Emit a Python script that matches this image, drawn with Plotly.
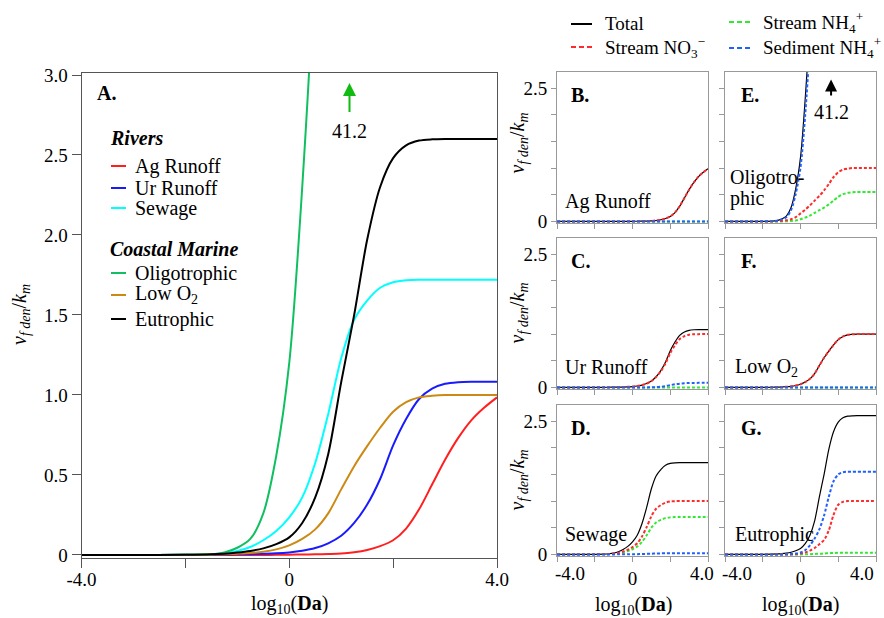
import plotly.graph_objects as go

# ---------------- data ----------------
LOG_DA = [-4, -3, -2, -1.5, -1.25, -1, -0.75, -0.5, -0.25, 0, 0.25, 0.5, 0.75, 1,
          1.25, 1.5, 1.75, 2, 2.25, 2.5, 2.75, 3, 3.25, 3.5, 3.75, 4]

AG_RUNOFF = [0, 0, 0, 0, 0, 0, 0, 0, 0.001, 0.002, 0.003, 0.004, 0.006, 0.009, 0.017, 0.031,
             0.055, 0.092, 0.165, 0.285, 0.44, 0.595, 0.73, 0.84, 0.92, 0.985]
UR_RUNOFF = [0, 0, 0.001, 0.002, 0.003, 0.004, 0.005, 0.007, 0.01, 0.016, 0.026, 0.043, 0.073,
             0.12, 0.20, 0.315, 0.475, 0.685, 0.85, 0.975, 1.04, 1.07, 1.08, 1.083, 1.083, 1.083]
SEWAGE = [0, 0, 0.001, 0.004, 0.012, 0.025, 0.05, 0.092, 0.15, 0.235, 0.36, 0.575, 0.88, 1.23,
          1.47, 1.59, 1.67, 1.705, 1.717, 1.72, 1.72, 1.72, 1.72, 1.72, 1.72, 1.72]
OLIGOTROPHIC = [0, 0, 0.001, 0.005, 0.016, 0.045, 0.10, 0.26, 0.62, 1.2, 2.3, 3.8, 6.5, 11, 17,
                24, 30, 35, 38.5, 40.2, 40.9, 41.1, 41.2, 41.2, 41.2, 41.2]
LOW_O2 = [0, 0, 0.001, 0.003, 0.005, 0.008, 0.012, 0.02, 0.035, 0.06, 0.10, 0.16, 0.26, 0.41,
          0.555, 0.68, 0.795, 0.895, 0.955, 0.985, 0.995, 1.0, 1.0, 1.0, 1.0, 1.0]
EUTROPHIC = [0, 0, 0.001, 0.004, 0.008, 0.015, 0.025, 0.041, 0.068, 0.11, 0.20, 0.36, 0.63,
             1.08, 1.50, 1.97, 2.30, 2.48, 2.56, 2.59, 2.598, 2.6, 2.6, 2.6, 2.6, 2.6]

ZERO = [0, 0, 0, 0, 0, 0, 0, 0, 0, 0, 0, 0, 0, 0, 0, 0, 0, 0, 0, 0, 0, 0, 0, 0, 0, 0]

# component curves of the small panels
C_NO3 = [0, 0, 0.001, 0.002, 0.003, 0.004, 0.005, 0.007, 0.01, 0.016, 0.026, 0.043, 0.073, 0.118,
         0.195, 0.303, 0.45, 0.643, 0.792, 0.905, 0.962, 0.988, 0.996, 0.998, 1.0, 1.0]
C_SED = [0, 0, 0, 0, 0, 0, 0, 0, 0, 0, 0, 0, 0, 0.002, 0.005, 0.012, 0.025, 0.042, 0.058, 0.07,
         0.078, 0.082, 0.084, 0.085, 0.085, 0.085]
D_NO3 = [0, 0, 0.001, 0.002, 0.007, 0.015, 0.029, 0.053, 0.087, 0.137, 0.209, 0.334, 0.512, 0.715,
         0.855, 0.924, 0.971, 0.991, 0.998, 1.0, 1.0, 1.0, 1.0, 1.0, 1.0, 1.0]
D_NH4 = [0, 0, 0, 0.002, 0.005, 0.01, 0.02, 0.037, 0.061, 0.096, 0.147, 0.234, 0.358, 0.50,
         0.598, 0.647, 0.68, 0.694, 0.699, 0.70, 0.70, 0.70, 0.70, 0.70, 0.70, 0.70]
D_SED = [0, 0, 0, 0, 0, 0, 0.001, 0.001, 0.002, 0.003, 0.004, 0.007, 0.01, 0.014, 0.017, 0.019,
         0.02, 0.02, 0.02, 0.02, 0.02, 0.02, 0.02, 0.02, 0.02, 0.02]
E_NO3 = [0, 0, 0, 0, 0.002, 0.008, 0.02, 0.04, 0.08, 0.15, 0.22, 0.30, 0.39, 0.48, 0.58, 0.70,
         0.83, 0.92, 0.97, 0.99, 1.0, 1.0, 1.0, 1.0, 1.0, 1.0]
E_NH4 = [0, 0, 0, 0, 0, 0, 0.003, 0.008, 0.016, 0.04, 0.07, 0.11, 0.16, 0.21, 0.26, 0.32, 0.39,
         0.46, 0.51, 0.535, 0.545, 0.55, 0.55, 0.55, 0.55, 0.55]
E_SED = [0, 0, 0.001, 0.005, 0.014, 0.037, 0.077, 0.21, 0.52, 1.01, 2.0, 3.4, 5.9, 10.3, 16.2,
         23.0, 28.8, 33.6, 37.0, 38.7, 39.4, 39.55, 39.65, 39.65, 39.65, 39.65]
G_NO3 = [0, 0, 0, 0, 0, 0, 0, 0, 0.005, 0.015, 0.035, 0.07, 0.12, 0.19, 0.27, 0.45, 0.74, 0.93,
         0.985, 1.0, 1.0, 1.0, 1.0, 1.0, 1.0, 1.0]
G_NH4 = [0, 0, 0, 0, 0, 0, 0, 0, 0, 0, 0.002, 0.005, 0.008, 0.012, 0.017, 0.022, 0.027, 0.03,
         0.03, 0.03, 0.03, 0.03, 0.03, 0.03, 0.03, 0.03]
G_SED = [0, 0, 0, 0, 0, 0, 0.002, 0.006, 0.015, 0.035, 0.08, 0.17, 0.30, 0.47, 0.73, 1.08, 1.37,
         1.50, 1.54, 1.55, 1.55, 1.55, 1.55, 1.55, 1.55, 1.55]

MAIN_NAMES = ["Ag Runoff", "Ur Runoff", "Sewage", "Oligotrophic", "Low O<sub>2</sub>", "Eutrophic"]
MAIN_SERIES = [AG_RUNOFF, UR_RUNOFF, SEWAGE, OLIGOTROPHIC, LOW_O2, EUTROPHIC]
MAIN_COLORS = ["#ff1f1f", "#1a1aff", "#00ffff", "#10c060", "#cc8a14", "#000000"]

# panels: (letter, label lines, total, NO3, NH4, SED)
PANELS = [
    ("B.", ["Ag Runoff"], AG_RUNOFF, AG_RUNOFF, ZERO, ZERO),
    ("C.", ["Ur Runoff"], UR_RUNOFF, C_NO3, ZERO, C_SED),
    ("D.", ["Sewage"], SEWAGE, D_NO3, D_NH4, D_SED),
    ("E.", ["Oligotro-", "phic"], OLIGOTROPHIC, E_NO3, E_NH4, E_SED),
    ("F.", ["Low O<sub>2</sub>"], LOW_O2, LOW_O2, ZERO, ZERO),
    ("G.", ["Eutrophic"], EUTROPHIC, G_NO3, G_NH4, G_SED),
]
COMP_NAMES = ["Total", "Stream NO<sub>3</sub><sup>\u2212</sup>", "Stream NH<sub>4</sub><sup>+</sup>",
              "Sediment NH<sub>4</sub><sup>+</sup>"]
COMP_COLORS = ["#000000", "#ff2a2a", "#33e833", "#2060ff"]

# ---------------- layout helpers ----------------
W, H = 884, 618
FONT = "Liberation Serif"


def PX(p):
    return p / W


def PY(p):
    return 1 - p / H


fig = go.Figure()

# main panel traces
for name, ys, col in zip(MAIN_NAMES, MAIN_SERIES, MAIN_COLORS):
    fig.add_trace(go.Scatter(x=LOG_DA, y=ys, mode="lines", name=name, showlegend=False,
                             line=dict(color=col, width=2, shape="spline", smoothing=0.8),
                             xaxis="x", yaxis="y"))

# small panels
COLS = [(557, 708), (725, 876)]
ROWS = [(72, 223), (238, 389), (405, 556)]
panel_axes = []
for i, (letter, label, tot, no3, nh4, sed) in enumerate(PANELS):
    col = i // 3
    row = i % 3
    k = i + 2
    xa, ya = "x%d" % k, "y%d" % k
    panel_axes.append((k, col, row))
    fig.add_trace(go.Scatter(x=LOG_DA, y=tot, mode="lines", showlegend=False, name=COMP_NAMES[0],
                             line=dict(color=COMP_COLORS[0], width=1.2, shape="spline", smoothing=0.8),
                             xaxis=xa, yaxis=ya))
    for nm, ys, c in [(COMP_NAMES[2], nh4, COMP_COLORS[2]), (COMP_NAMES[1], no3, COMP_COLORS[1]),
                      (COMP_NAMES[3], sed, COMP_COLORS[3])]:
        fig.add_trace(go.Scatter(x=LOG_DA, y=ys, mode="lines", showlegend=False, name=nm,
                                 line=dict(color=c, width=2, dash="3px,2px", shape="spline",
                                           smoothing=0.8),
                                 xaxis=xa, yaxis=ya))

axis_common = dict(showgrid=False, zeroline=False, showline=True, mirror=True, ticks="outside",
                   tickfont=dict(family=FONT, size=19, color="#000"), fixedrange=True)

layout = dict(
    width=W, height=H, margin=dict(l=0, r=0, t=0, b=0, autoexpand=False),
    paper_bgcolor="white", plot_bgcolor="white",
    font=dict(family=FONT, size=20, color="#000"),
    showlegend=False,
)
layout["xaxis"] = dict(axis_common, domain=[PX(81.5), PX(497)], range=[-4, 4],
                       tickvals=[-4, 0, 4], ticktext=["-4.0", "0", "4.0"], ticklabelstandoff=-5,
                       minor=dict(tickvals=[-2, 2], ticks="outside", ticklen=9, tickcolor="#555"),
                       ticklen=9, linecolor="#555", tickcolor="#555", anchor="y")
layout["yaxis"] = dict(axis_common, domain=[PY(558), PY(73)], range=[-0.019, 3.0125],
                       tickvals=[0, 0.5, 1, 1.5, 2, 2.5, 3],
                       ticktext=["0", "0.5", "1.0", "1.5", "2.0", "2.5", "3.0"],
                       ticklen=9, linecolor="#555", tickcolor="#555", anchor="x")

for k, col, row in panel_axes:
    x0, x1 = COLS[col]
    y0, y1 = ROWS[row]
    bottom = row == 2
    xd = dict(axis_common, domain=[PX(x0), PX(x1)], range=[-4, 4],
              ticklen=5, linecolor="#999", tickcolor="#999", anchor="y%d" % k)
    if bottom:
        xd.update(tickvals=[0], ticktext=["0"],
                  minor=dict(tickvals=[-4, -2, 2, 4], ticks="outside", ticklen=5, tickcolor="#999"))
    else:
        xd.update(tickvals=[-4, -2, 0, 2, 4], showticklabels=False)
    yd = dict(axis_common, domain=[PY(y1), PY(y0)], range=[-0.03, 2.80],
              ticklen=5, linecolor="#999", tickcolor="#999", anchor="x%d" % k)
    if col == 0:
        yd.update(tickvals=[0, 2.5], ticktext=["0", "2.5"],
                  minor=dict(tickvals=[0.5, 1, 1.5, 2], ticks="outside", ticklen=5, tickcolor="#999"))
    else:
        yd.update(tickvals=[0, 0.5, 1, 1.5, 2, 2.5], showticklabels=False)
    layout["xaxis%d" % k] = xd
    layout["yaxis%d" % k] = yd

fig.update_layout(**layout)

ann = []
shapes = []


def text(x, y, s, size=20, anchor="left", angle=0, bold=False, italic=False, color="#000"):
    if bold:
        s = "<b>" + s + "</b>"
    if italic:
        s = "<i>" + s + "</i>"
    ann.append(dict(x=PX(x), y=PY(y), xref="paper", yref="paper", text=s, showarrow=False,
                    xanchor=anchor, yanchor="middle", textangle=angle,
                    font=dict(family=FONT, size=size, color=color)))


YTITLE = "<i>v</i><sub><i>f den</i></sub>/<i>k</i><sub><i>m</i></sub>"
XTITLE = "log<sub>10</sub>(<b>Da</b>)"

# main panel texts
text(95, 93, "A.", bold=True)
text(108, 138, "Rivers", bold=True, italic=True)
text(108, 249, "Coastal Marine", bold=True, italic=True)
leg_rows = [166, 188, 208, 273, 295, 319]
for yy, nm, c in zip(leg_rows, MAIN_NAMES, MAIN_COLORS):
    shapes.append(dict(type="line", xref="paper", yref="paper", x0=PX(111), x1=PX(126),
                       y0=PY(yy), y1=PY(yy), line=dict(color=c, width=2)))
    text(133, yy, nm, size=20)
text(20, 315, YTITLE, angle=-90, anchor="center")
text(289, 604, XTITLE, anchor="center")

# arrow + value in panel A
ann.append(dict(x=1.16, y=2.95, ax=1.16, ay=2.76, xref="x", yref="y", axref="x", ayref="y",
                text="", showarrow=True, arrowhead=2, arrowsize=1.3, arrowwidth=2,
                arrowcolor="#11bb11"))
text(349, 131, "41.2", anchor="center")

# small panel texts
for i, (letter, label, *_r) in enumerate(PANELS):
    col = i // 3
    row = i % 3
    x0 = COLS[col][0]
    y0 = ROWS[row][0]
    text(x0 + 12 if col == 0 else x0 + 14, y0 + 23, letter, bold=True)
    if len(label) == 1:
        text(x0 + 6 if col == 0 else x0 + 8, y0 + 129, label[0])
    else:
        text(x0 + 3, y0 + 105, label[0])
        text(x0 + 3, y0 + 126, label[1])

for row in range(3):
    y0, y1 = ROWS[row]
    text(518, (y0 + y1) / 2 - (4 if row == 0 else 0), YTITLE, angle=-90, anchor="center")

for cx in (633, 800):
    text(cx, 605, XTITLE, anchor="center")
for xx, s in [(570, "-4.0"), (702, "4.0"), (737, "-4.0"), (862, "4.0")]:
    text(xx, 573, s, size=19, anchor="center")

# arrow + value in panel E
ann.append(dict(x=1.62, y=2.66, ax=1.62, ay=2.33, xref="x5", yref="y5", axref="x5", ayref="y5",
                text="", showarrow=True, arrowhead=2, arrowsize=1.2, arrowwidth=2,
                arrowcolor="#000"))
text(831, 112, "41.2", anchor="center")

# component key at the top right
key = [(571, 592, 603, 24, 0, "solid"), (571, 592, 603, 47, 1, "5px,3px"),
       (729, 750, 761, 22, 2, "5px,3px"), (729, 750, 761, 48, 3, "5px,3px")]
for xa, xb, xt, yy, idx, dsh in key:
    shapes.append(dict(type="line", xref="paper", yref="paper", x0=PX(xa), x1=PX(xb),
                       y0=PY(yy), y1=PY(yy),
                       line=dict(color=COMP_COLORS[idx], width=2, dash=dsh)))
    text(xt, yy, COMP_NAMES[idx], size=19)

fig.update_layout(annotations=ann, shapes=shapes)
fig.write_html("out.html", config={"displayModeBar": False},
               post_script="document.body.style.margin='0';document.body.style.padding='0';"
                           "document.documentElement.style.overflow='hidden';")
